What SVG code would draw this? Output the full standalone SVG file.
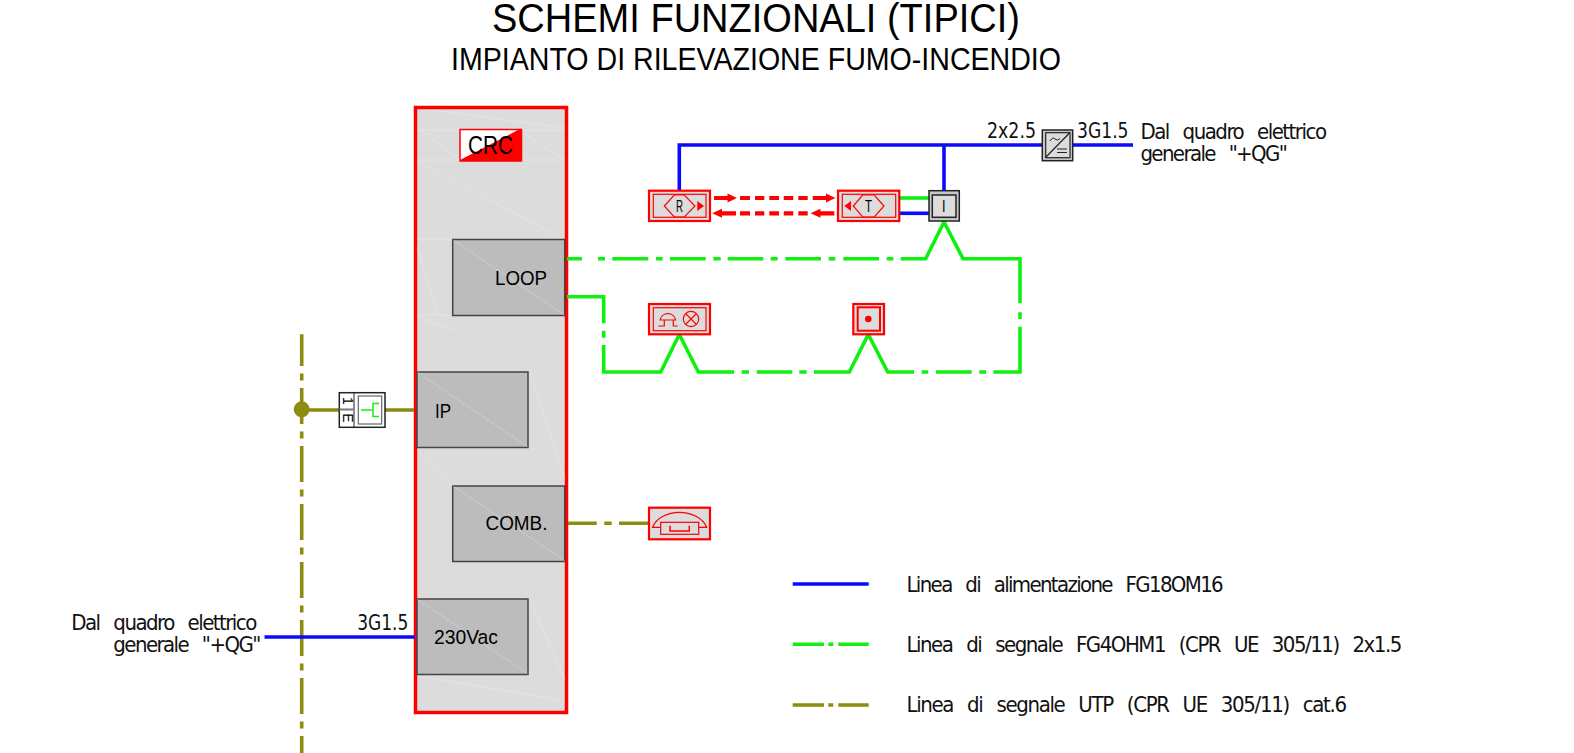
<svg xmlns="http://www.w3.org/2000/svg" width="1574" height="753" viewBox="0 0 1574 753">
<style>
text{font-family:"Liberation Sans",Arial,sans-serif;fill:#000}
.cad{font-family:"Liberation Sans Narrow","DejaVu Sans Condensed","Liberation Sans",sans-serif;font-size:22px;fill:#111}
.mod{fill:#bcbcbc;stroke:#444;stroke-width:1.5}
.dev{fill:#dcdcdc;stroke:#f00;stroke-width:2.200}
.in{fill:none;stroke:#f00;stroke-width:1.2}
.tex{fill:none;stroke:#fff;stroke-width:.8;opacity:.3}
.bl{fill:none;stroke:#0a0aff;stroke-width:3.6}
.gr{fill:none;stroke:#10f010;stroke-width:3.6;stroke-linejoin:miter}
.ol{fill:none;stroke:#8c8c10;stroke-width:3.6}
.vd{stroke-dasharray:36 7.500 7 7.500;stroke-dashoffset:4.400}
.rd{fill:none;stroke:#f00;stroke-width:4.200}
</style>
<g id="title">
<text x="492" y="32" font-size="40" textLength="528" lengthAdjust="spacingAndGlyphs">SCHEMI FUNZIONALI (TIPICI)</text>
<text x="451" y="70" font-size="31" textLength="610" lengthAdjust="spacingAndGlyphs">IMPIANTO DI RILEVAZIONE FUMO-INCENDIO</text>
</g>
<g id="crc">
<rect x="415.500" y="107.500" width="151" height="605" fill="#dcdcdc" stroke="#f00" stroke-width="3.500"/>
<path class="tex" d="M417 130H565M417 160H565M417 161L565 240M420 130L460 160M523 133L565 160M433 110L565 128M417 239H452M417 247L438 315M417 315H452M417 317L453 330M417 676L560 700M530 600L565 680M417 450L452 486M530 372L565 480"/>
<rect x="460" y="129.500" width="61.500" height="31.500" fill="#fff" stroke="#f00" stroke-width="1.500"/>
<path d="M460 160L518 130H521.500V161H460Z" fill="#f00"/>
<text x="468" y="154" font-size="25" textLength="45" lengthAdjust="spacingAndGlyphs">CRC</text>
</g>
<g id="loop"><rect class="mod" x="452.700" y="239.500" width="112" height="76"/><path class="tex" d="M453 240L565 315"/><text x="495" y="285" font-size="20.500" textLength="52" lengthAdjust="spacingAndGlyphs">LOOP</text></g>
<g id="ip"><rect class="mod" x="417" y="372" width="111" height="75.500"/><path class="tex" d="M417 372L528 447"/><text x="435" y="418" font-size="20.500" textLength="16" lengthAdjust="spacingAndGlyphs">IP</text></g>
<g id="comb"><rect class="mod" x="452.700" y="486" width="112" height="75.500"/><path class="tex" d="M453 486L565 561"/><text x="485.500" y="530" font-size="20.500" textLength="62" lengthAdjust="spacingAndGlyphs">COMB.</text></g>
<g id="vac"><rect class="mod" x="417" y="599" width="111" height="75.500"/><path class="tex" d="M417 599L528 674"/><text x="434" y="644.300" font-size="20.500" textLength="64" lengthAdjust="spacingAndGlyphs">230Vac</text></g>
<g id="connectors">
<path class="ol vd" d="M301.700 334.300V753"/>
<path class="ol" d="M301.700 410H339M385 410H414"/>
<path class="ol" d="M568 523.300H596.700M604.300 523.300H611.700M619 523.300H649"/>
<path class="bl" d="M264.500 637H415"/>
<path class="bl" d="M679.300 190V145H1042M944 145V190M1072 145H1133"/>
<path class="bl" d="M899 213.300H929"/>
<path class="gr" d="M899 198H929"/>
<path class="gr" d="M567 258.700H582M598 258.700H605M612.300 258.700H648.300M656 258.700H662.700M670 258.700H705.700M713.300 258.700H720.700M727.700 258.700H763.300M770.700 258.700H777.700M785.300 258.700H821M828.700 258.700H835.300M843.300 258.700H879M886.700 258.700H893.300M900.700 258.700H925.700L944 222L963 258.700H1020V303.300M1020 312.300V319M1020 326.700V372H993.300M986 372H979.300M971.700 372H936M928.300 372H921.700M914 372H887.700L868.300 334.500L849.300 372H814M806.700 372H799.300M792.300 372H756.700M749 372H741.700M734 372H698.300L679.300 334.500L660.700 372H603.700V345M603.700 337.700V330.700M603.700 323.300V296.700H567"/>
<path class="rd" d="M714 198H729M740 198H750M755 198H764.300M769.300 198H779M783.700 198H793.300M798.300 198H807.700M812.700 198H827M722 213.300H736M740 213.300H750M755 213.300H764.300M769.300 213.300H779M783.700 213.300H793.300M798.300 213.300H807.700M820 213.300H834.300"/>
<path fill="#f00" d="M727.500 193.500L737 198L727.500 202.500ZM826 193.500L835.500 198L826 202.500ZM712.200 213.300L722 208.800V217.800ZM810.500 213.300L820.500 208.800V217.800Z"/>
</g>
<g id="junction"><circle cx="301.700" cy="409.300" r="8" fill="#8c8c10"/></g>
<g id="switch">
<rect x="339.300" y="392.700" width="45.700" height="34.600" fill="#fff" stroke="#222" stroke-width="1.500"/>
<path d="M354 392.700V427.300" stroke="#222" stroke-width="1"/>
<path d="M339.300 409.500H354" stroke="#777" stroke-width="2"/>
<rect x="358.300" y="396" width="23.400" height="28" fill="#fff" stroke="#666" stroke-width="1.200"/>
<path d="M361 410H372M379 403.500H373V416.500H379" fill="none" stroke="#10f010" stroke-width="1.500"/>
<text transform="translate(342.500 401) rotate(90)" font-size="14" text-anchor="middle">1</text>
<text transform="translate(342.500 418) rotate(90)" font-size="14" text-anchor="middle">E</text>
</g>
<g id="receiver">
<rect class="dev" x="649" y="190.700" width="61" height="30.300"/>
<rect class="in" x="653.300" y="194.300" width="52.700" height="23"/>
<path class="in" d="M664.300 206L674.300 195H684.300L695 206L684.300 217H674.300Z"/>
<path d="M697.300 201L704 206L697.300 211Z" fill="#f00"/>
<text x="676" y="211.700" font-size="16" textLength="7" lengthAdjust="spacingAndGlyphs">R</text>
</g>
<g id="transmitter">
<rect class="dev" x="838" y="190.700" width="61.300" height="30.300"/>
<rect class="in" x="842.300" y="194.300" width="53.400" height="23"/>
<path class="in" d="M853.300 206L862.700 195H874.300L884 206L874.300 217H862.700Z"/>
<path d="M851 201L844.300 206L851 211Z" fill="#f00"/>
<text x="865" y="211.700" font-size="16" textLength="7" lengthAdjust="spacingAndGlyphs">T</text>
</g>
<g id="interface">
<rect x="929" y="190.700" width="30.300" height="30.300" fill="#c8c8c8" stroke="#222" stroke-width="1.500"/>
<rect x="932.300" y="195" width="23.700" height="22.300" fill="#dcdcdc" stroke="#222" stroke-width="1.500"/>
<text x="942" y="211.700" font-size="16" textLength="3.500" lengthAdjust="spacingAndGlyphs" fill="#333">I</text>
</g>
<g id="psu">
<rect x="1042.300" y="130" width="30.400" height="30.700" fill="#c8c8c8" stroke="#222" stroke-width="1.500"/>
<rect x="1045.700" y="132.700" width="24.300" height="25" fill="#dcdcdc" stroke="#222" stroke-width="1.200"/>
<path d="M1046 157L1069.500 133" stroke="#222" stroke-width="1.200"/>
<path d="M1050 141Q1052.500 136.500 1055 139T1060 138.500M1057 149H1067M1057 152.500H1067" fill="none" stroke="#222" stroke-width="1"/>
</g>
<g id="siren">
<rect class="dev" x="649" y="304" width="61" height="30.300"/>
<rect class="in" x="653.300" y="307.700" width="52.700" height="23"/>
<path class="in" d="M660 320A8 8 0 0 1 675.700 320ZM664.300 320V326H658.300M673.300 320V326H677.700"/>
<circle class="in" cx="691" cy="319" r="7.700"/>
<path class="in" d="M685.500 313.500L696.500 324.500M696.500 313.500L685.500 324.500"/>
</g>
<g id="detector">
<rect class="dev" x="853.300" y="304" width="30.700" height="30.300"/>
<rect x="857.700" y="307.300" width="22.300" height="23.400" fill="#dcdcdc" stroke="#f00" stroke-width="2"/>
<circle cx="868.300" cy="319" r="3.300" fill="#f00"/>
</g>
<g id="phone">
<rect class="dev" x="649" y="507.700" width="61" height="31.600"/>
<path class="in" d="M652.700 527.300C656 518 668 512.300 679.300 512.300C691 512.300 703 518 706.700 527.300Z"/>
<rect x="660.700" y="522.300" width="38" height="12" fill="#dcdcdc" stroke="#f00" stroke-width="1.200"/>
<path d="M670 525.700V531H689.300V525.700" fill="none" stroke="#f00" stroke-width="1.500"/>
</g>
<g id="labels">
<text class="cad" x="987" y="138.300" textLength="49" lengthAdjust="spacingAndGlyphs">2x2.5</text>
<text class="cad" x="1077" y="138" textLength="51.500" lengthAdjust="spacingAndGlyphs">3G1.5</text>
<text class="cad" x="1140.400" y="139" textLength="186.600" word-spacing="9">Dal quadro elettrico</text>
<text class="cad" x="1140.400" y="160.500" textLength="147.500" word-spacing="9">generale "+QG"</text>
<text class="cad" x="71.300" y="630" textLength="186" word-spacing="9">Dal quadro elettrico</text>
<text class="cad" x="113.300" y="652.300" textLength="148" word-spacing="9">generale "+QG"</text>
<text class="cad" x="357.200" y="630" textLength="51.200" lengthAdjust="spacingAndGlyphs">3G1.5</text>
</g>
<g id="legend">
<path class="bl" d="M792.700 584H868.700"/>
<path class="gr" d="M792.700 644.300H824M828.300 644.300H833.300M838.300 644.300H868.700"/>
<path class="ol" d="M792.700 705H824M828.300 705H833.300M838.300 705H868.700"/>
<text class="cad" x="906.500" y="591.700" textLength="317.200" word-spacing="9">Linea di alimentazione FG18OM16</text>
<text class="cad" x="906.500" y="652.300" textLength="495.800" word-spacing="9">Linea di segnale FG4OHM1 (CPR UE 305/11) 2x1.5</text>
<text class="cad" x="906.500" y="712.300" textLength="440.500" word-spacing="9">Linea di segnale UTP (CPR UE 305/11) cat.6</text>
</g>
</svg>
